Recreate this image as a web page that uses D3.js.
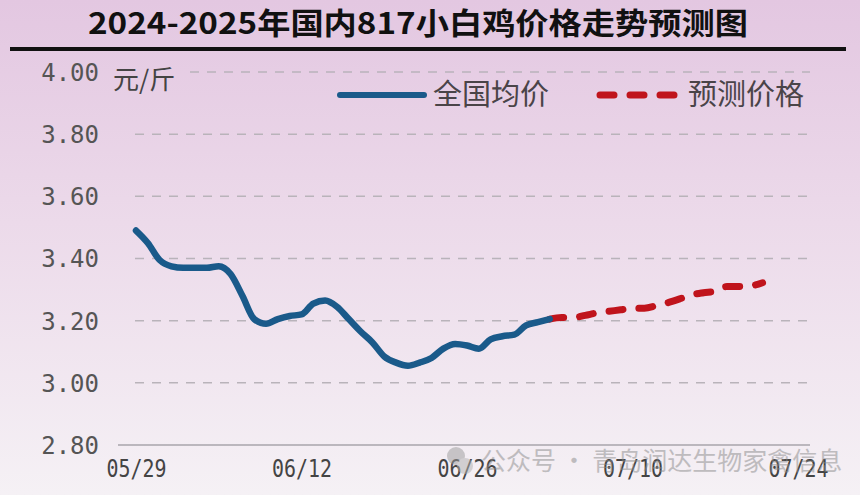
<!DOCTYPE html>
<html>
<head>
<meta charset="utf-8">
<script src="https://cdn.jsdelivr.net/npm/d3@7"></script>
<style>
  html, body { margin: 0; padding: 0; }
  body { width: 860px; height: 495px; overflow: hidden; }
</style>
</head>
<body>
<svg id="chart" width="860" height="495"></svg>
<script>
// ---- data ----
const titleText = "2024-2025年国内817小白鸡价格走势预测图";
const unitLabel = "元/斤";
const seriesNames = ["全国均价", "预测价格"];
const actualDates = ["05/29","05/30","05/31","06/01","06/02","06/03","06/04","06/05","06/06","06/07",
  "06/08","06/09","06/10","06/11","06/12","06/13","06/14","06/15","06/16","06/17",
  "06/18","06/19","06/20","06/21","06/22","06/23","06/24","06/25","06/26","06/27",
  "06/28","06/29","06/30","07/01","07/02","07/03"];
const actualValues = [3.49,3.45,3.395,3.375,3.37,3.37,3.37,3.375,3.35,3.28,
  3.205,3.19,3.205,3.215,3.22,3.255,3.265,3.245,3.205,3.165,
  3.13,3.085,3.065,3.055,3.065,3.08,3.11,3.125,3.12,3.11,
  3.14,3.15,3.155,3.185,3.195,3.205];
const forecastDates = ["07/03","07/04","07/05","07/06","07/07","07/08","07/09","07/10","07/11","07/12",
  "07/13","07/14","07/15","07/16","07/17","07/18","07/19","07/20","07/21"];
const forecastValues = [3.205,3.21,3.21,3.217,3.225,3.23,3.235,3.24,3.24,3.248,
  3.258,3.27,3.283,3.29,3.295,3.31,3.31,3.312,3.322];
const xTickLabels = ["05/29","06/12","06/26","07/10","07/24"];
const yTickValues = [2.8,3.0,3.2,3.4,3.6,3.8,4.0];
const watermarkText = "公众号 · 青岛润达生物家禽信息";

// ---- setup ----
const parse = d3.timeParse("%Y/%m/%d");
const toDate = s => parse("2025/" + s);
const svg = d3.select("#chart");

const defs = svg.append("defs");
const grad = defs.append("linearGradient").attr("id","bg").attr("x1",0).attr("y1",0).attr("x2",0).attr("y2",1);
grad.append("stop").attr("offset","0%").attr("stop-color","#e3c7e1");
grad.append("stop").attr("offset","45%").attr("stop-color","#ecdaea");
grad.append("stop").attr("offset","100%").attr("stop-color","#f5f1f5");
svg.append("rect").attr("width",860).attr("height",495).attr("fill","url(#bg)");

// title
svg.append("text").attr("x",88).attr("y",34)
  .attr("textLength",660).attr("lengthAdjust","spacingAndGlyphs")
  .attr("font-family","'Noto Sans CJK SC',sans-serif")
  .attr("font-weight",700).attr("font-size",30).attr("fill","#111")
  .text(titleText);
svg.append("rect").attr("x",10).attr("y",47).attr("width",836).attr("height",4).attr("fill","#111");

// scales
const x = d3.scaleTime().domain([toDate("05/29"), toDate("07/24")]).range([136, 798]);
const y = d3.scaleLinear().domain([2.8, 4.0]).range([445, 72]);

// gridlines
const grid = svg.append("g");
grid.selectAll("line").data(yTickValues.filter(v => v > 2.8)).join("line")
  .attr("x1", v => v === 4.0 ? 190 : 135).attr("x2", 810)
  .attr("y1", v => y(v)).attr("y2", v => y(v))
  .attr("stroke","#b9b3ba").attr("stroke-width",1.5).attr("stroke-dasharray","9,8");
svg.append("line").attr("x1",118).attr("x2",810).attr("y1",y(2.8)).attr("y2",y(2.8))
  .attr("stroke","#a9a4ab").attr("stroke-width",1.5);

// y axis labels
const yAxis = d3.axisLeft(y).tickValues(yTickValues).tickFormat(d3.format(".2f")).tickSize(0).tickPadding(0);
const yg = svg.append("g").attr("transform","translate(99,0)").call(yAxis);
yg.select(".domain").remove();
yg.selectAll("text").attr("font-family","'DejaVu Sans Mono',monospace").attr("font-size",24)
  .attr("fill","#555").attr("dy","0.35em");

// unit
svg.append("text").attr("x",113).attr("y",89).attr("font-family","'Noto Sans CJK SC',sans-serif")
  .attr("font-size",26).attr("fill","#444").text(unitLabel);

// x axis labels
const xAxis = d3.axisBottom(x).tickValues(xTickLabels.map(toDate)).tickFormat(d3.timeFormat("%m/%d")).tickSize(0).tickPadding(0);
const xg = svg.append("g").attr("transform","translate(0,459)").call(xAxis);
xg.select(".domain").remove();
xg.selectAll("text").attr("font-family","'DejaVu Sans Mono',monospace").attr("font-size",25)
  .attr("fill","#444").attr("dy","0.71em")
  .attr("textLength",60).attr("lengthAdjust","spacingAndGlyphs");

// lines
const line = d3.line().x(d => x(d.date)).y(d => y(d.value)).curve(d3.curveMonotoneX);
const actual = actualDates.map((s,i) => ({date: toDate(s), value: actualValues[i]}));
const forecast = forecastDates.map((s,i) => ({date: toDate(s), value: forecastValues[i]}));

svg.append("path").datum(forecast).attr("d", line).attr("fill","none")
  .attr("stroke","#c0141c").attr("stroke-width",7).attr("stroke-linecap","round")
  .attr("stroke-dasharray","14,16");
svg.append("path").datum(actual).attr("d", line).attr("fill","none")
  .attr("stroke","#1a5a8a").attr("stroke-width",6.5).attr("stroke-linejoin","round").attr("stroke-linecap","round");

// legend
const lg = svg.append("g");
lg.append("line").attr("x1",340).attr("x2",424).attr("y1",95).attr("y2",95)
  .attr("stroke","#1a5a8a").attr("stroke-width",6).attr("stroke-linecap","round");
lg.append("text").attr("x",433).attr("y",105).attr("font-family","'Noto Sans CJK SC',sans-serif")
  .attr("font-size",29).attr("fill","#4a4448").text(seriesNames[0]);
lg.append("line").attr("x1",600).attr("x2",676).attr("y1",95).attr("y2",95)
  .attr("stroke","#c0141c").attr("stroke-width",7).attr("stroke-linecap","round")
  .attr("stroke-dasharray","14,16");
lg.append("text").attr("x",688).attr("y",105).attr("font-family","'Noto Sans CJK SC',sans-serif")
  .attr("font-size",29).attr("fill","#4a4448").text(seriesNames[1]);

// watermark
const wm = svg.append("g").attr("opacity",0.5);
wm.append("circle").attr("cx",456).attr("cy",456).attr("r",9).attr("fill","#9a9a9a");
wm.append("circle").attr("cx",465).attr("cy",466).attr("r",8).attr("fill","#b0b0b0");
wm.append("text").attr("x",481).attr("y",470).attr("font-family","'Noto Sans CJK SC',sans-serif")
  .attr("font-size",25).attr("fill","#8a8a8a").text(watermarkText);
</script>
</body>
</html>
